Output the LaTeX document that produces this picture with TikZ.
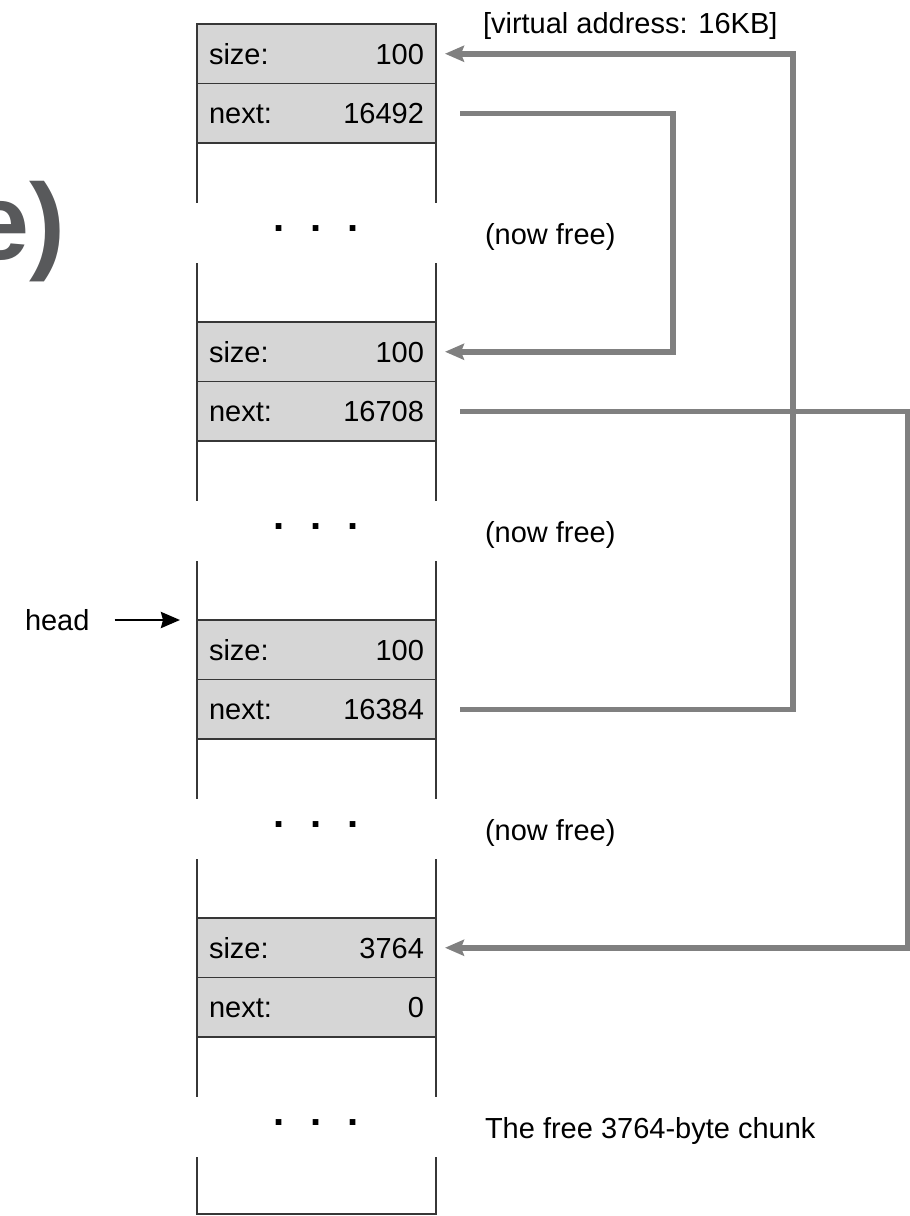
\documentclass[tikz,border=0pt]{standalone}
\usepackage{fontspec}
\setmainfont{Liberation Sans}
\usetikzlibrary{arrows.meta}
\definecolor{cellfill}{RGB}{214,214,214}
\definecolor{cellline}{RGB}{55,55,55}
\definecolor{ptrgray}{RGB}{128,128,128}
\definecolor{titlegray}{RGB}{88,89,91}

\begin{document}
\begin{tikzpicture}[x=1pt,y=-1pt,
  txt/.style={font=\fontsize{29}{34}\selectfont, inner sep=0pt, outer sep=0pt},
  cell/.style={txt, draw=cellline, line width=1.6pt, fill=cellfill,
    minimum width=239pt, minimum height=59.5pt, inner xsep=12pt,
    anchor=north west, text height=21pt, text depth=0pt},
  wall/.style={cellline, line width=1.6pt},
  gapdots/.style={txt, font=\fontsize{40}{44}\selectfont\bfseries, anchor=base},
  note/.style={txt, anchor=base west},
  ptr/.style={ptrgray, line width=5.5pt, line join=miter,
    -{Stealth[length=19pt,width=16pt,inset=3pt]}},
  headptr/.style={black, line width=2.8pt,
    -{Stealth[length=19pt,width=16pt,inset=2pt]}}
]
\useasboundingbox (0,0) rectangle (910,1216);

% partial heading at the left edge
\node[anchor=base east, inner sep=0pt, text=titlegray,
  font=\fontsize{108}{120}\selectfont\bfseries] (heading) at (66,259) {e)};

% header cells of the four chunks
\newcommand{\cellrow}[2]{\makebox[215pt]{#1\hfill #2}}
\node[cell] (s1) at (197,24)    {\cellrow{size:}{100}};
\node[cell] (n1) at (197,83.5)  {\cellrow{next:}{16492}};
\node[cell] (s2) at (197,322)   {\cellrow{size:}{100}};
\node[cell] (n2) at (197,381.5) {\cellrow{next:}{16708}};
\node[cell] (s3) at (197,620)   {\cellrow{size:}{100}};
\node[cell] (n3) at (197,679.5) {\cellrow{next:}{16384}};
\node[cell] (s4) at (197,918)   {\cellrow{size:}{3764}};
\node[cell] (n4) at (197,977.5) {\cellrow{next:}{0}};

% side walls of the chunk bodies, broken where the dots stand
\foreach \t in {24,322,620} {
  \draw[wall] (197,\t+119) -- (197,\t+179) (436,\t+119) -- (436,\t+179)
              (197,\t+239) -- (197,\t+298) (436,\t+239) -- (436,\t+298);
}
\draw[wall] (197,1037) -- (197,1097) (436,1037) -- (436,1097);
\draw[wall] (197,1157) -- (197,1214) -- (436,1214) -- (436,1157);

% elided bodies
\node[gapdots] (d1) at (316,231)  {.\hspace{26pt}.\hspace{26pt}.};
\node[gapdots] (d2) at (316,529)  {.\hspace{26pt}.\hspace{26pt}.};
\node[gapdots] (d3) at (316,827)  {.\hspace{26pt}.\hspace{26pt}.};
\node[gapdots] (d4) at (316,1125) {.\hspace{26pt}.\hspace{26pt}.};

% annotations
\node[note] (va) at (483,33) {[virtual address: 16KB]};
\node[note] (f1) at (485,244) {(now free)};
\node[note] (f2) at (485,542) {(now free)};
\node[note] (f3) at (485,840) {(now free)};
\node[note] (f4) at (485,1138) {The free 3764-byte chunk};

% head pointer
\node[txt, anchor=west, text height=21pt, text depth=0pt] (headlbl) at (25,620) {head};
\draw[headptr] ([xshift=25pt]headlbl.east) -- ([xshift=-17pt]s3.north west);

% free-list links
\draw[ptr] ([xshift=24pt]n1.east) -| ([xshift=237pt]s2.east) -- ([xshift=9pt]s2.east);
\draw[ptr] ([xshift=24pt]n2.east) -| ([xshift=472pt]s4.east) -- ([xshift=9pt]s4.east);
\draw[ptr] ([xshift=24pt]n3.east) -| ([xshift=357pt]s1.east) -- ([xshift=9pt]s1.east);
\end{tikzpicture}
\end{document}
